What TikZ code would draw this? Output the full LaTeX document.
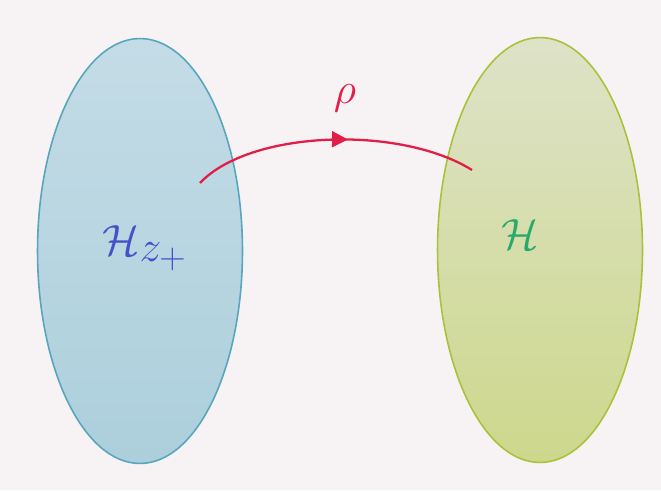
\documentclass[tikz,border=0pt]{standalone}
\usepackage{amsmath,amssymb}
\usetikzlibrary{arrows.meta,shapes.geometric,decorations.markings}

\definecolor{paper}{RGB}{247,242,243}
\definecolor{blueedge}{RGB}{88,165,190}
\definecolor{bluetop}{RGB}{196,220,230}
\definecolor{bluebot}{RGB}{172,207,220}
\definecolor{greenedge}{RGB}{168,194,60}
\definecolor{greentop}{RGB}{222,226,200}
\definecolor{greenbot}{RGB}{205,216,140}
\definecolor{mapred}{RGB}{226,30,72}
\definecolor{penblue}{RGB}{70,80,200}
\definecolor{pengreen}{RGB}{40,170,105}

\begin{document}
\begin{tikzpicture}[
  x=0.02cm, y=-0.02cm,
  space/.style={ellipse, draw, line width=0.9pt,
                minimum width=4.1cm, minimum height=8.5cm},
  arr/.style={mapred, line width=1.3pt,
              decoration={markings,
                mark=at position 0.55 with {\arrow{Triangle[length=9pt,width=9pt]}}},
              postaction={decorate}},
  lbl/.style={font=\fontsize{40}{46}\selectfont},
]
\useasboundingbox (0,0) rectangle (661,490);
\fill[paper] (0,0) rectangle (661,490);

\node[space, draw=blueedge, top color=bluetop, bottom color=bluebot]
  (hz) at (140,251) {};
\node[space, draw=greenedge, top color=greentop, bottom color=greenbot]
  (h)  at (540,250) {};

\node[lbl, penblue]  (hzlbl) at (145,248) {$\mathcal{H}_{z_+}$};
\node[lbl, pengreen] (hlbl)  at (520,235) {$\mathcal{H}$};

%% map between the two spaces
\coordinate (src) at (200,183);
\coordinate (dst) at (472,170);
\draw[arr] (src) .. controls (250,130) and (400,125) .. (dst);
\node[mapred, font=\fontsize{28}{32}\selectfont] (rho) at (345,98) {$\rho$};
\end{tikzpicture}
\end{document}
